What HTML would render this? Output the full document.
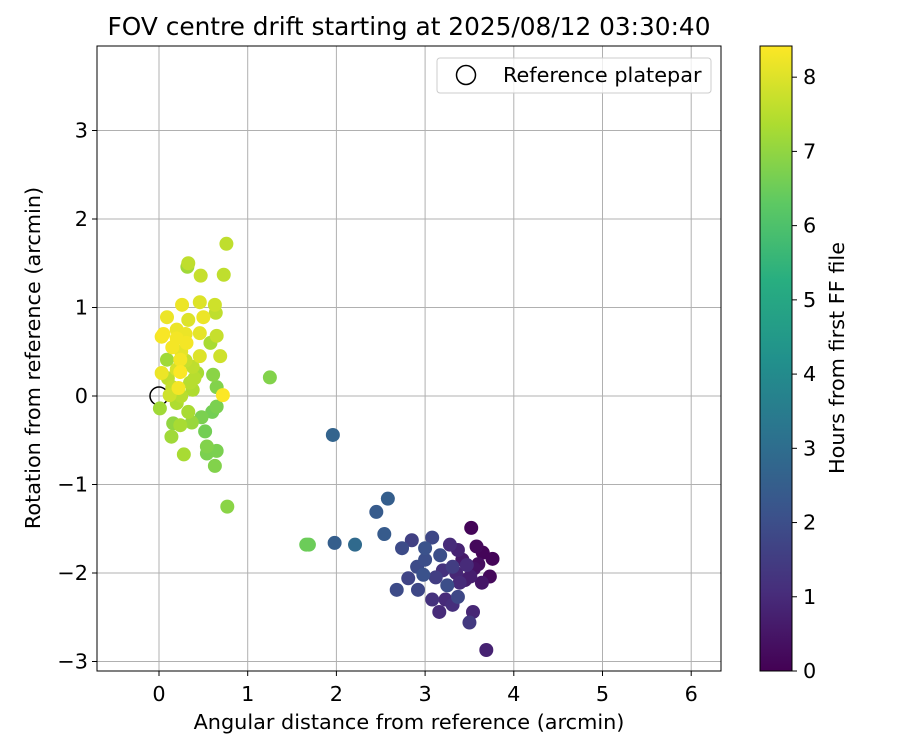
<!DOCTYPE html>
<html><head><meta charset="utf-8"><style>
body{margin:0;background:#fff;font-family:"DejaVu Sans","Liberation Sans",sans-serif;}
</style></head><body>
<svg id="chart" width="900" height="750" xmlns="http://www.w3.org/2000/svg" font-family="DejaVu Sans, Liberation Sans, sans-serif">
<defs>
<linearGradient id="vir" x1="0" y1="1" x2="0" y2="0">
<stop offset="0" stop-color="#440154"/><stop offset="0.125" stop-color="#472d7b"/><stop offset="0.25" stop-color="#3b528b"/><stop offset="0.375" stop-color="#2c728e"/><stop offset="0.5" stop-color="#21918c"/><stop offset="0.625" stop-color="#28ae80"/><stop offset="0.75" stop-color="#5ec962"/><stop offset="0.875" stop-color="#addc30"/><stop offset="1" stop-color="#fde725"/>
</linearGradient>
<clipPath id="clip"><rect x="97" y="46" width="624" height="625"/></clipPath>
</defs>
<text x="409" y="35" text-anchor="middle" font-size="24.8">FOV centre drift starting at 2025/08/12 03:30:40</text>
<g id="grid"></g>
<g id="points" clip-path="url(#clip)"></g>
<rect x="97" y="46" width="624" height="625" fill="none" stroke="#000" stroke-width="1"/>
<g id="ticks"></g>
<text x="409" y="729" text-anchor="middle" font-size="20.8">Angular distance from reference (arcmin)</text>
<text transform="translate(40,358) rotate(-90)" text-anchor="middle" font-size="20.8">Rotation from reference (arcmin)</text>
<g>
<rect x="437" y="58" width="274" height="35" rx="3" fill="#fff" fill-opacity="0.8" stroke="#ccc"/>
<circle cx="466" cy="75" r="9.5" fill="none" stroke="#000" stroke-width="1.5"/>
<text x="503" y="82" font-size="20.8">Reference platepar</text>
</g>
<rect x="760" y="46" width="32" height="625" fill="url(#vir)" stroke="#000" stroke-width="1"/>
<g id="cbticks"></g>
<text transform="translate(844,358) rotate(-90)" text-anchor="middle" font-size="20.8">Hours from first FF file</text>
</svg>
<script>
const xs=[1.96,2.58,2.45,2.54,1.66,1.69,1.98,2.21,3.52,2.85,3.08,2.74,3.0,3.17,3.28,3.37,3.58,3.65,3.76,2.91,2.98,3.2,3.31,3.47,3.51,3.73,2.81,2.68,2.92,3.25,3.39,3.64,3.08,3.23,3.37,3.31,3.16,3.54,3.5,3.69,3.42,3.55,3.35,3.45,3.6,3.0,3.12,
0.76,0.33,0.32,0.47,0.73,0.26,0.46,0.63,0.64,0.09,0.33,0.5,0.03,0.2,0.31,0.46,0.65,0.58,0.69,0.09,0.24,0.46,0.38,0.03,0.24,0.43,0.61,0.65,0.22,0.38,0.72,0.12,0.01,0.2,0.33,0.65,0.6,0.48,0.16,0.24,0.37,0.52,0.14,0.54,0.54,0.65,0.28,0.63,0.77,1.25,
0.15,0.25,0.2,0.3,0.35,0.1,0.25,0.4,0.3,0.15,0.05,0.2];
const ys=[-0.44,-1.16,-1.31,-1.56,-1.68,-1.68,-1.66,-1.68,-1.49,-1.63,-1.60,-1.72,-1.72,-1.80,-1.68,-1.74,-1.70,-1.77,-1.84,-1.93,-2.02,-1.97,-1.93,-1.91,-2.04,-2.04,-2.06,-2.19,-2.19,-2.14,-2.11,-2.11,-2.30,-2.30,-2.27,-2.36,-2.44,-2.44,-2.56,-2.87,-1.85,-1.95,-2.0,-2.08,-1.9,-1.85,-2.05,
1.72,1.50,1.46,1.36,1.37,1.03,1.06,1.03,0.94,0.89,0.86,0.89,0.67,0.75,0.6,0.71,0.68,0.6,0.45,0.41,0.41,0.45,0.33,0.26,0.27,0.26,0.24,0.1,0.09,0.07,0.01,0.01,-0.14,-0.08,-0.18,-0.12,-0.18,-0.24,-0.31,-0.33,-0.3,-0.4,-0.46,-0.57,-0.65,-0.62,-0.66,-0.79,-1.25,0.21,
0.55,0.5,0.3,0.4,0.15,0.2,0.0,0.2,0.7,0.1,0.7,0.65];
const hours=[2.7,2.5,2.4,2.4,6.5,6.5,2.5,2.9,0.1,1.6,1.8,1.9,2.1,2.0,1.0,0.8,0.2,0.1,0.1,1.9,2.1,1.2,1.5,1.0,0.7,0.2,1.7,1.9,1.8,2.0,1.0,0.5,1.2,1.0,1.8,1.1,1.0,0.9,1.4,0.8,0.6,0.4,0.9,0.7,0.3,2.0,1.5,
7.6,7.6,7.2,7.7,7.6,8.2,8.0,7.8,7.6,8.2,8.0,8.2,8.3,8.2,8.3,8.1,7.7,7.3,7.8,7.2,8.3,8.0,7.6,8.2,8.4,7.3,6.9,6.8,8.3,7.4,8.4,7.8,7.2,7.4,7.3,6.7,6.6,6.7,7.0,7.3,7.1,6.6,7.2,6.8,6.7,6.7,7.3,6.8,6.9,6.8,
8.3,8.1,7.9,7.7,7.5,7.6,7.5,7.5,8.2,7.7,8.35,8.3];
const xTicks=[0,1,2,3,4,5,6];
const yTicks=[-3,-2,-1,0,1,2,3];
const cTicks=[0,1,2,3,4,5,6,7,8];
const X=v=>159+88.7*v, Y=v=>396-88.5*v, C=v=>671-v*(625/8.42);
const NS='http://www.w3.org/2000/svg';
const stops=[[68,1,84],[71,45,123],[59,82,139],[44,114,142],[33,145,140],[40,174,128],[94,201,98],[173,220,48],[253,231,37]];
function vir(h){let t=Math.max(0,Math.min(1,h/8.42))*8;let i=Math.min(7,Math.floor(t)),f=t-i;const a=stops[i],b=stops[i+1];return 'rgb('+a.map((c,k)=>Math.round(c+(b[k]-c)*f)).join(',')+')';}
function mk(tag,attrs,parent){const e=document.createElementNS(NS,tag);for(const k in attrs)e.setAttribute(k,attrs[k]);parent.appendChild(e);return e;}
const grid=document.getElementById('grid'),ticks=document.getElementById('ticks'),pts=document.getElementById('points'),cb=document.getElementById('cbticks');
xTicks.forEach(v=>{const l=mk('line',{x1:X(v),x2:X(v),y1:46,y2:671,stroke:'#b0b0b0','stroke-width':1},grid);
mk('line',{x1:X(v),x2:X(v),y1:671,y2:676,stroke:'#000'},ticks);
const t=mk('text',{x:X(v),y:701,'text-anchor':'middle','font-size':20.8},ticks);t.textContent=v;});
yTicks.forEach(v=>{const l=mk('line',{x1:97,x2:721,y1:Y(v),y2:Y(v),stroke:'#b0b0b0','stroke-width':1},grid);
mk('line',{x1:92,x2:97,y1:Y(v),y2:Y(v),stroke:'#000'},ticks);
const t=mk('text',{x:88,y:Y(v)+7,'text-anchor':'end','font-size':20.8},ticks);t.textContent=v<0?'\u2212'+(-v):v;});
cTicks.forEach(v=>{mk('line',{x1:792,x2:797,y1:C(v),y2:C(v),stroke:'#000'},cb);
const t=mk('text',{x:803,y:C(v)+7,'font-size':20.8},cb);t.textContent=v;});
const ref=mk('circle',{cx:X(0),cy:Y(0),r:9,fill:'none',stroke:'#000','stroke-width':1.5},pts);


const order=xs.map((_,i)=>i).sort((a,b)=>hours[a]-hours[b]);
order.forEach(i=>{const c=mk('circle',{cx:X(xs[i]),cy:Y(ys[i]),r:7,fill:vir(hours[i])},pts);

});
</script>
</body></html>
